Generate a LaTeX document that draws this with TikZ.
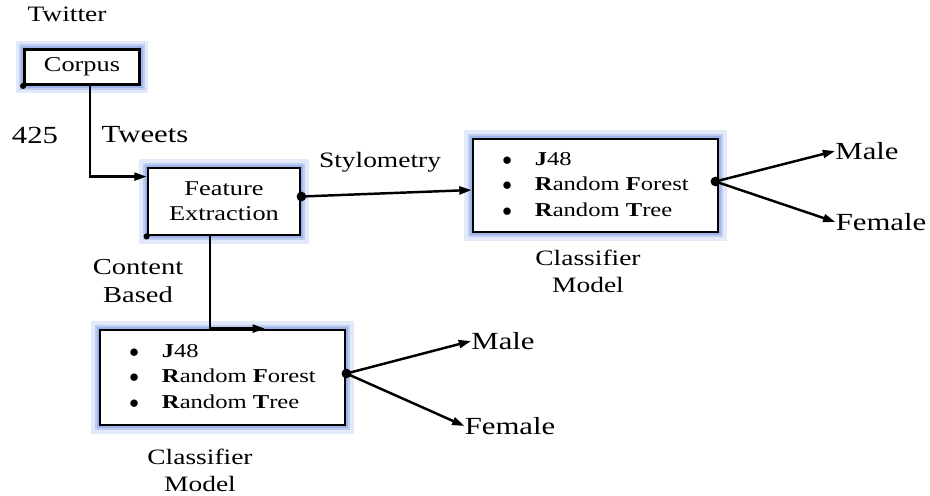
\documentclass[tikz,border=0pt]{standalone}
\usepackage{fontspec}
\setmainfont[FakeStretch=1.25]{Liberation Serif}
\usetikzlibrary{arrows.meta,positioning}
\definecolor{glowblue}{RGB}{125,155,225}
\newcommand\PxUnit{0.02cm}
\newcommand\AlgoList{%
  \begin{tabular}{@{}c@{\hspace{13pt}}l@{}}
    $\bullet$ & \textbf{J}48\\
    $\bullet$ & \textbf{R}andom \textbf{F}orest\\
    $\bullet$ & \textbf{R}andom \textbf{T}ree
  \end{tabular}}
\tikzset{
  block/.style={
    shape = rectangle,
    draw,
    fill = white,
    line width = 1.6pt,
    inner sep = 0pt,
    preaction = {draw = glowblue, line width = 10pt, draw opacity = 0.22},
    preaction = {draw = glowblue, line width = 6pt, draw opacity = 0.35},
    preaction = {draw = glowblue, line width = 3.5pt, draw opacity = 0.5}
  },
}
\tikzset{
  link/.style={
    line width = 1.4pt,
    -{Triangle[length=7pt,width=4.5pt]}
  },
}
\tikzset{
  bigdot/.style={
    inner sep = 0pt,
    minimum size = 5.5pt,
    shape = circle,
    fill
  },
  smalldot/.style={
    inner sep = 0pt,
    minimum size = 3.5pt,
    shape = circle,
    fill
  },
  txt/.style={
    inner sep = 0pt,
    font = \fontsize{12}{14.2}\selectfont
  },
  smalltxt/.style={
    inner sep = 0pt,
    font = \fontsize{11.2}{14.5}\selectfont
  },
  largetxt/.style={
    inner sep = 0pt,
    font = \fontsize{14}{17}\selectfont
  }
}

\begin{document}
\begin{tikzpicture}[x=\PxUnit, y=-\PxUnit]
    \useasboundingbox (0,0) rectangle (930,495);

    % boxes
    \node[inner sep=0pt, font=\fontsize{12.5}{15}\selectfont] (twitter) at (67,14) {Twitter};
    \node[block, txt, minimum width=2.3cm, minimum height=0.7cm] (corpus) at (82,67) {Corpus};
    \node[block, txt, align=center, minimum width=3.04cm, minimum height=1.34cm] (feature) at (224,201.5) {Feature\\Extraction};
    \node[block, smalltxt, minimum width=4.9cm, minimum height=1.86cm] (clsA) at (595.5,185.5) {\AlgoList};
    \node[block, smalltxt, minimum width=4.9cm, minimum height=1.9cm] (clsB) at (222.5,377.5) {\AlgoList};

    % labels
    \node[largetxt] (count) at (35,135) {425};
    \node[largetxt] (tweets) at (145,135) {Tweets};
    \node[inner sep=0pt, font=\fontsize{12.5}{15}\selectfont] (stylo) at (380,162) {Stylometry};
    \node[inner sep=0pt, align=center, font=\fontsize{13}{16}\selectfont] (content) at (138,281) {Content\\Based};
    \node[inner sep=0pt, align=center, font=\fontsize{12.5}{15.5}\selectfont] (capA) at (588,271) {Classifier\\Model};
    \node[inner sep=0pt, align=center, font=\fontsize{12.5}{15.5}\selectfont] (capB) at (200,470) {Classifier\\Model};
    \node[largetxt] (maleA) at (867,151) {Male};
    \node[largetxt] (femaleA) at (881,222) {Female};
    \node[largetxt] (maleB) at (503,341) {Male};
    \node[largetxt] (femaleB) at (510,426) {Female};

    % junctions
    \node[smalldot] (cornerC) at (corpus.south west) {};
    \node[smalldot] (cornerF) at (feature.south west) {};
    \node[bigdot] (jF) at ([yshift=0.1cm]feature.east) {};
    \node[bigdot] (jA) at ([xshift=-0.08cm, yshift=0.08cm]clsA.east) {};
    \node[bigdot] (jB) at ([yshift=0.08cm]clsB.east) {};

    % connectors
    \draw[link] ([xshift=0.16cm]corpus.south) |- ([yshift=-0.2cm]feature.north west);
    \draw[link] (jF.center) -- ([yshift=-0.09cm]clsA.west);
    \draw[link] ([xshift=-0.28cm]feature.south) |- ([xshift=0.85cm]clsB.north);
    \draw[link] (jA.center) -- (maleA.west);
    \draw[link] (jA.center) -- (femaleA.west);
    \draw[link] (jB.center) -- (maleB.west);
    \draw[link] (jB.center) -- (femaleB.west);
\end{tikzpicture}
\end{document}
